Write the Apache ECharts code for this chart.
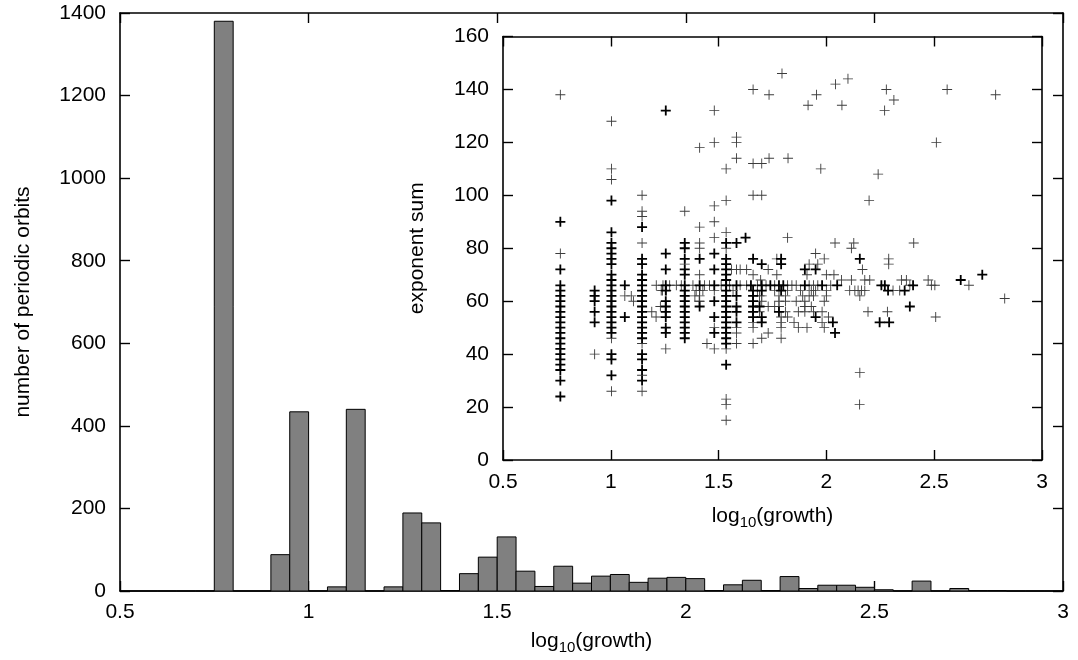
<!DOCTYPE html>
<html>
<head>
<meta charset="utf-8">
<script src="https://cdn.jsdelivr.net/npm/echarts@6/dist/echarts.min.js"></script>
<style>html,body{margin:0;padding:0;background:#fff}#c{width:1078px;height:660px}</style>
</head>
<body>
<div id="c"></div>
<script>
// ---------- DATA ----------
// Histogram: bins of width 0.05 starting at 0.5
const histStart = 0.5;
const histBinWidth = 0.05;
const histCounts = [0,0,0,0,0,1380,0,0,88,434,0,10,440,0,10,189,165,1,42,82,131,48,11,60,19,36,40,21,31,33,30,1,15,26,1,35,6,14,14,9,3,0,24,0,6,1,1,0,0,0];

// Inset scatter: exponent sum vs log10(growth)
// points drawn once (grey) and points that repeat (black)
const scatterSingle = [
 [0.766,138],[0.766,78],[0.925,40],
 [1.003,128],[1.003,110],[1.003,106],[1.003,46],[1.003,26],
 [1.065,62],[1.095,62],[1.105,60],
 [1.145,100],[1.145,94],[1.145,92],[1.145,82],[1.145,44],[1.145,32],[1.145,26],
 [1.19,56],[1.21,54],[1.23,58],[1.24,64],
 [1.255,42],[1.343,94],[1.343,74],
 [1.412,118],[1.412,88],[1.412,82],[1.412,80],[1.412,70],[1.412,64],[1.412,62],[1.412,60],
 [1.48,132],[1.48,120],[1.48,96],[1.48,90],[1.48,84],[1.48,50],[1.48,42],[1.48,64],[1.446,44],
 [1.535,110],[1.535,98],[1.535,86],[1.535,80],[1.535,42],[1.535,23],[1.535,21],[1.535,15],
 [1.583,122],[1.583,120],[1.583,114],[1.583,72],[1.583,50],[1.583,48],[1.583,44],
 [1.211,66],[1.242,66],[1.273,66],[1.304,66],[1.327,66],[1.381,66],[1.435,66],[1.458,66],[1.512,66],[1.551,66],[1.60,66],
 [1.234,64],[1.257,64],[1.396,64],[1.427,64],[1.567,64],[1.39,62],[1.41,60],[1.56,72],[1.60,72],
 [1.66,140],[1.66,112],[1.66,100],[1.70,112],[1.70,100],[1.734,138],[1.734,114],[1.794,146],[1.822,114],
 [1.915,134],[1.954,138],[1.974,110],[2.042,142],[2.072,134],[2.1,144],[2.198,98],[2.24,108],[2.27,132],
 [2.278,140],[2.313,136],[2.51,120],[2.56,140],[2.785,138],
 [1.82,84],[2.04,82],[1.95,78],[1.77,76],[1.99,76],[1.92,74],[1.96,74],[1.63,72],[1.73,72],
 [1.66,70],[1.77,70],[1.91,70],[2.0,70],[2.035,70],[1.695,68],[2.07,68],
 [1.63,66],[1.68,66],[1.72,66],[1.76,66],[1.82,66],[1.84,66],[1.86,66],[1.92,66],[1.94,66],[1.96,66],[2.02,66],
 [1.68,64],[1.76,64],[1.82,64],[1.88,64],[1.93,64],[1.95,64],[2.0,64],
 [1.69,62],[1.70,62],[1.78,62],[1.81,62],[1.89,62],[1.92,62],[1.94,62],[2.0,62],
 [1.70,60],[1.78,60],[1.81,60],[1.86,60],[1.90,60],[1.99,60],
 [1.73,58],[1.76,58],[1.78,58],[1.90,58],[1.93,58],
 [1.69,56],[1.81,56],[1.87,56],[1.90,56],[1.94,56],[1.98,56],
 [1.79,54],[1.82,54],[2.01,54],
 [1.66,52],[1.79,52],[1.85,52],[1.98,52],
 [1.66,50],[1.79,50],[1.87,50],[1.91,50],[1.99,50],
 [1.73,48],[1.70,46],[1.79,46],[1.66,44],
 [2.127,82],[2.116,80],[2.405,82],[2.167,72],[2.289,76],[2.289,74],
 [2.116,68],[2.178,68],[2.201,68],[2.348,68],[2.371,68],[2.472,68],
 [2.387,66],[2.487,66],[2.503,66],[2.661,66],
 [2.108,64],[2.132,64],[2.147,64],[2.163,64],[2.178,64],[2.309,64],[2.34,64],
 [2.155,62],[2.193,56],[2.283,56],[2.507,54],[2.155,33],[2.154,21],[2.827,61]
];
const scatterRepeated = [
 [0.766,90],[0.766,72],[0.766,66],[0.766,64],[0.766,62],[0.766,60],[0.766,58],[0.766,56],[0.766,54],[0.766,52],
 [0.766,50],[0.766,48],[0.766,46],[0.766,44],[0.766,42],[0.766,40],[0.766,38],[0.766,36],[0.766,34],[0.766,30],[0.766,24],
 [0.925,64],[0.925,62],[0.925,60],[0.925,56],[0.925,52],
 [1.003,98],[1.003,86],[1.003,82],[1.003,80],[1.003,78],[1.003,76],[1.003,74],[1.003,70],[1.003,68],[1.003,66],
 [1.003,64],[1.003,62],[1.003,60],[1.003,58],[1.003,56],[1.003,54],[1.003,52],[1.003,50],[1.003,48],[1.003,40],[1.003,38],[1.003,32],
 [1.065,66],[1.065,54],
 [1.145,88],[1.145,76],[1.145,74],[1.145,70],[1.145,68],[1.145,66],[1.145,64],[1.145,62],[1.145,60],[1.145,58],
 [1.145,56],[1.145,54],[1.145,52],[1.145,50],[1.145,48],[1.145,46],[1.145,40],[1.145,38],[1.145,34],[1.145,30],
 [1.255,132],[1.255,78],[1.255,72],[1.255,66],[1.255,64],[1.255,60],[1.255,58],[1.255,56],[1.255,54],[1.255,50],[1.255,48],
 [1.343,82],[1.343,80],[1.343,76],[1.343,72],[1.343,70],[1.343,66],[1.343,64],[1.343,62],[1.343,60],[1.343,58],
 [1.343,56],[1.343,54],[1.343,52],[1.343,50],[1.343,48],[1.343,46],
 [1.412,76],[1.412,66],[1.412,58],
 [1.48,78],[1.48,72],[1.48,66],[1.48,60],[1.48,54],[1.48,48],
 [1.535,82],[1.535,76],[1.535,74],[1.535,72],[1.535,70],[1.535,68],[1.535,66],[1.535,64],[1.535,62],[1.535,60],
 [1.535,58],[1.535,56],[1.535,54],[1.535,52],[1.535,50],[1.535,48],[1.535,46],[1.535,44],[1.535,36],
 [1.583,82],[1.583,66],[1.583,62],[1.583,58],[1.583,56],[1.583,52],
 [1.625,84],
 [1.65,66],[1.70,66],[1.74,66],[1.78,66],[1.80,66],[1.90,66],[1.98,66],[2.05,66],
 [1.66,76],[1.79,76],[1.70,74],[1.79,74],[1.90,72],[1.95,72],[1.66,64],[1.70,64],[1.79,64],
 [1.66,62],[1.66,60],[1.66,58],[1.69,58],[1.66,56],[1.78,56],[1.66,54],[1.70,54],[1.95,54],[1.70,52],[2.03,52],[2.04,48],
 [2.155,76],[2.255,66],[2.271,66],[2.402,66],[2.286,64],[2.363,64],[2.387,58],[2.247,52],[2.291,52],[2.623,68],[2.723,70]
];

// axis ranges [min, max, interval]
const mainXRange = [0.5, 3, 0.5];
const mainYRange = [0, 1400, 200];
const insetXRange = [0.5, 3, 0.5];
const insetYRange = [0, 160, 20];
const mainYName = 'number of periodic orbits';
const insetYName = 'exponent sum';

// ---------- CHART ----------
const FONT = 'Liberation Sans, Arial, sans-serif';
const FS = 21;
const chart = echarts.init(document.getElementById('c'), null, {renderer: 'canvas'});

const histData = histCounts.map((c, i) => [histStart + i * histBinWidth, histStart + (i + 1) * histBinWidth, c]);

function axisBase(range, showLabel, pos, gridIndex, margin) {
  return {
    type: 'value', gridIndex: gridIndex, position: pos,
    min: range[0], max: range[1], interval: range[2],
    axisLine: {show: true, onZero: false, lineStyle: {color: '#000', width: 1.6}},
    axisTick: {show: true, inside: true, length: 10, lineStyle: {color: '#000', width: 1.4}},
    axisLabel: {show: showLabel, color: '#000', fontFamily: FONT, fontSize: FS, margin: margin,
      showMinLabel: true, showMaxLabel: true, formatter: function (v) { return String(v); }},
    splitLine: {show: false}
  };
}

const subName = '{a|log}{s|10}{a|(growth)}';
const nameRich = {
  a: {fontFamily: FONT, fontSize: FS, color: '#000'},
  s: {fontFamily: FONT, fontSize: 15, color: '#000', padding: [12, 0, 0, 0]}
};

const plusThin = 'path://M0,4.55H10V5.45H0Z M4.55,0H5.45V10H4.55Z';
const plusBold = 'path://M0,4.1H10V5.9H0Z M4.1,0H5.9V10H4.1Z';

const option = {
  animation: false,
  backgroundColor: '#fff',
  grid: [
    {left: 120, right: 15, top: 13, bottom: 69},
    {left: 503, right: 36, top: 36.5, bottom: 200, show: true, backgroundColor: '#fff', borderWidth: 0, z: 5}
  ],
  xAxis: [
    Object.assign(axisBase(mainXRange, true, 'bottom', 0, 11), {name: subName, nameLocation: 'middle', nameGap: 37,
      nameTextStyle: {rich: nameRich}}),
    axisBase(mainXRange, false, 'top', 0, 8),
    Object.assign(axisBase(insetXRange, true, 'bottom', 1, 12), {name: subName, nameLocation: 'middle', nameGap: 43,
      nameTextStyle: {rich: nameRich}, z: 6}),
    Object.assign(axisBase(insetXRange, false, 'top', 1, 8), {z: 6})
  ],
  yAxis: [
    Object.assign(axisBase(mainYRange, true, 'left', 0, 14), {name: mainYName, nameLocation: 'middle', nameGap: 86,
      nameTextStyle: {color: '#000', fontFamily: FONT, fontSize: FS}}),
    axisBase(mainYRange, false, 'right', 0, 8),
    Object.assign(axisBase(insetYRange, true, 'left', 1, 14), {name: insetYName, nameLocation: 'middle', nameGap: 75,
      nameTextStyle: {color: '#000', fontFamily: FONT, fontSize: FS}, z: 6}),
    Object.assign(axisBase(insetYRange, false, 'right', 1, 8), {z: 6})
  ],
  series: [
    {
      type: 'custom', xAxisIndex: 0, yAxisIndex: 0, z: 2,
      data: histData,
      encode: {x: [0, 1], y: 2},
      renderItem: function (params, api) {
        const p0 = api.coord([api.value(0), api.value(2)]);
        const p1 = api.coord([api.value(1), 0]);
        return {type: 'rect', shape: {x: p0[0], y: p0[1], width: p1[0] - p0[0], height: p1[1] - p0[1]},
          style: {fill: '#808080', stroke: '#000', lineWidth: 1}};
      }
    },
    {
      type: 'scatter', xAxisIndex: 2, yAxisIndex: 2, z: 7,
      data: scatterSingle, symbol: plusThin, symbolSize: 10,
      itemStyle: {color: '#3c3c3c', opacity: 1}
    },
    {
      type: 'scatter', xAxisIndex: 2, yAxisIndex: 2, z: 8,
      data: scatterRepeated, symbol: plusBold, symbolSize: 10,
      itemStyle: {color: '#000', opacity: 1}
    }
  ]
};
chart.setOption(option);
</script>
</body>
</html>
